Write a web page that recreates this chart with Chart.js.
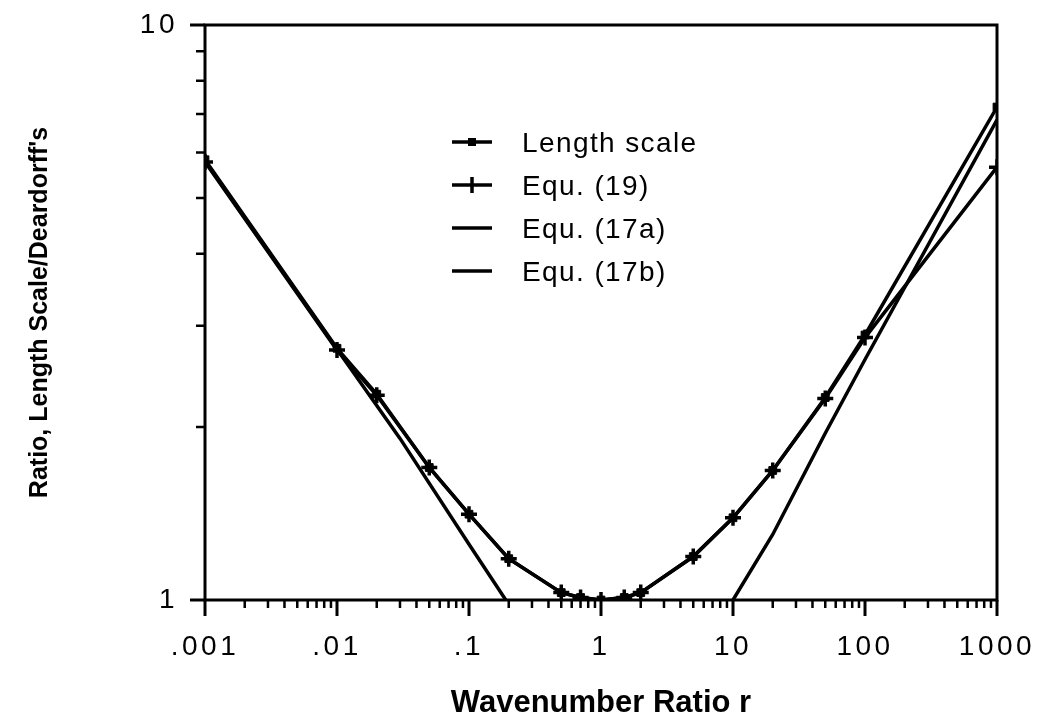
<!DOCTYPE html>
<html>
<head>
<meta charset="utf-8">
<script src="https://cdn.jsdelivr.net/npm/chart.js@4/dist/chart.umd.min.js"></script>
<style>
    html, body { margin: 0; padding: 0; background: #fff; }
    #grafico { display: block; }
</style>
</head>
<body>
<canvas id="grafico" width="1039" height="717"></canvas>
<script>
// valores (eixos log-log)
const razaoR = [0.001, 0.01, 0.02, 0.05, 0.1, 0.2, 0.5, 0.7, 1, 1.5, 2, 5, 10, 20, 50, 100, 1000];
const escalaComprimento = [5.83, 2.74, 2.28, 1.70, 1.41, 1.18, 1.03, 1.01, 1.0, 1.01, 1.03, 1.19, 1.39, 1.68, 2.25, 2.89, 7.2];
const equ19 = [5.78, 2.72, 2.27, 1.70, 1.41, 1.18, 1.03, 1.01, 1.0, 1.01, 1.03, 1.19, 1.39, 1.68, 2.24, 2.86, 5.66];

const razaoR17a = [0.001, 0.01, 0.03, 0.1, 0.19];
const equ17a = [5.8, 2.73, 1.91, 1.25, 1.0];

const razaoR17b = [10, 20, 50, 100, 1000];
const equ17b = [1.0, 1.30, 1.95, 2.62, 6.84];

const rotulosSeries = ['Length scale', 'Equ. (19)', 'Equ. (17a)', 'Equ. (17b)'];

const xTickValores = [0.001, 0.01, 0.1, 1, 10, 100, 1000];
const xTickRotulos = ['.001', '.01', '.1', '1', '10', '100', '1000'];
const yTickValores = [1, 10];
const yTickRotulos = ['1', '10'];

const tituloX = 'Wavenumber Ratio r';
const tituloY = "Ratio, Length Scale/Deardorff's";

function pares(xs, ys) {
    return xs.map((x, i) => ({ x: x, y: ys[i] }));
}

const pluginMoldura = {
    id: 'moldura',
    beforeDraw(chart) {
        chart.ctx.letterSpacing = '3.5px';
    },
    afterDraw(chart) {
        const { ctx, chartArea: a, scales: { x, y } } = chart;
        ctx.save();
        ctx.letterSpacing = '0px';
        ctx.strokeStyle = '#000';
        ctx.fillStyle = '#000';

        // moldura
        ctx.lineWidth = 3;
        ctx.strokeRect(a.left, a.top, a.right - a.left, a.bottom - a.top);

        // marcas do eixo x
        ctx.beginPath();
        xTickValores.forEach((v) => {
            const px = x.getPixelForValue(v);
            ctx.moveTo(px, a.bottom);
            ctx.lineTo(px, a.bottom + 16);
        });
        ctx.stroke();
        ctx.lineWidth = 2.5;
        ctx.beginPath();
        for (let i = 0; i < xTickValores.length - 1; i++) {
            for (let m = 2; m <= 9; m++) {
                const px = x.getPixelForValue(xTickValores[i] * m);
                ctx.moveTo(px, a.bottom);
                ctx.lineTo(px, a.bottom + 8);
            }
        }
        ctx.stroke();

        // marcas do eixo y
        ctx.lineWidth = 3;
        ctx.beginPath();
        yTickValores.forEach((v) => {
            const py = y.getPixelForValue(v);
            ctx.moveTo(a.left - 15, py);
            ctx.lineTo(a.left, py);
        });
        ctx.stroke();
        ctx.lineWidth = 2.5;
        ctx.beginPath();
        for (let m = 2; m <= 9; m++) {
            const py = y.getPixelForValue(yTickValores[0] * m);
            ctx.moveTo(a.left - 9, py);
            ctx.lineTo(a.left, py);
        }
        ctx.stroke();

        // titulos dos eixos
        ctx.font = 'bold 31px "Liberation Sans", Arial, sans-serif';
        ctx.textAlign = 'center';
        ctx.textBaseline = 'alphabetic';
        ctx.fillText(tituloX, (a.left + a.right) / 2, 712);

        ctx.save();
        ctx.translate(40, (a.top + a.bottom) / 2);
        ctx.rotate(-Math.PI / 2);
        ctx.font = 'bold 25px "Liberation Sans", Arial, sans-serif';
        ctx.textBaseline = 'middle';
        ctx.fillText(tituloY, 0, 0);
        ctx.restore();

        // legenda
        const legX = 452, legY = 142, passo = 43;
        ctx.font = '28px "Liberation Sans", Arial, sans-serif';
        ctx.letterSpacing = '1.4px';
        ctx.textAlign = 'left';
        ctx.textBaseline = 'middle';
        chart.data.datasets.forEach((ds, i) => {
            const yy = legY + i * passo;
            ctx.lineWidth = 3.5;
            ctx.beginPath();
            ctx.moveTo(legX, yy);
            ctx.lineTo(legX + 40, yy);
            ctx.stroke();
            const cx = legX + 20;
            if (ds.pointStyle === 'rect') {
                ctx.fillRect(cx - 4, yy - 4, 8, 8);
            } else if (ds.pointStyle === 'cross') {
                ctx.beginPath();
                ctx.moveTo(cx, yy - 8);
                ctx.lineTo(cx, yy + 8);
                ctx.stroke();
            }
            ctx.fillText(ds.label, legX + 70, yy + 2);
        });
        ctx.restore();
    }
};

const fonteTicks = { family: '"Liberation Sans", Arial, sans-serif', size: 28 };

new Chart(document.getElementById('grafico'), {
    type: 'scatter',
    data: {
        datasets: [
            {
                label: rotulosSeries[0],
                data: pares(razaoR, escalaComprimento),
                showLine: true,
                borderColor: '#000',
                backgroundColor: '#000',
                borderWidth: 3.5,
                pointStyle: 'rect',
                pointRadius: 5.5,
                pointBorderWidth: 1
            },
            {
                label: rotulosSeries[1],
                data: pares(razaoR, equ19),
                showLine: true,
                borderColor: '#000',
                backgroundColor: '#000',
                borderWidth: 3.5,
                pointStyle: 'cross',
                pointRadius: 8,
                pointBorderWidth: 3.5
            },
            {
                label: rotulosSeries[2],
                data: pares(razaoR17a, equ17a),
                showLine: true,
                borderColor: '#000',
                borderWidth: 3.5,
                pointRadius: 0
            },
            {
                label: rotulosSeries[3],
                data: pares(razaoR17b, equ17b),
                showLine: true,
                borderColor: '#000',
                borderWidth: 3.5,
                pointRadius: 0
            }
        ]
    },
    options: {
        responsive: false,
        animation: false,
        layout: { padding: { top: 25, right: 42, bottom: 0, left: 0 } },
        plugins: {
            legend: { display: false },
            tooltip: { enabled: false }
        },
        scales: {
            x: {
                type: 'logarithmic',
                min: 0.001,
                max: 1000,
                afterFit(s) {
                    s.height = 117;
                    s.paddingLeft = 0;
                    s.paddingRight = 0;
                },
                afterBuildTicks(s) { s.ticks = xTickValores.map((v) => ({ value: v })); },
                grid: { display: false, drawTicks: false },
                border: { display: false },
                ticks: {
                    autoSkip: false,
                    maxRotation: 0,
                    padding: 30,
                    color: '#000',
                    font: fonteTicks,
                    callback: (v, i) => xTickRotulos[i]
                }
            },
            y: {
                type: 'logarithmic',
                min: 1,
                max: 10,
                afterFit(s) {
                    s.width = 205;
                    s.paddingTop = 0;
                    s.paddingBottom = 0;
                },
                afterBuildTicks(s) { s.ticks = yTickValores.map((v) => ({ value: v })); },
                grid: { display: false, drawTicks: false },
                border: { display: false },
                ticks: {
                    autoSkip: false,
                    padding: 27,
                    color: '#000',
                    font: fonteTicks,
                    callback: (v, i) => yTickRotulos[i]
                }
            }
        }
    },
    plugins: [pluginMoldura]
});
</script>
</body>
</html>
